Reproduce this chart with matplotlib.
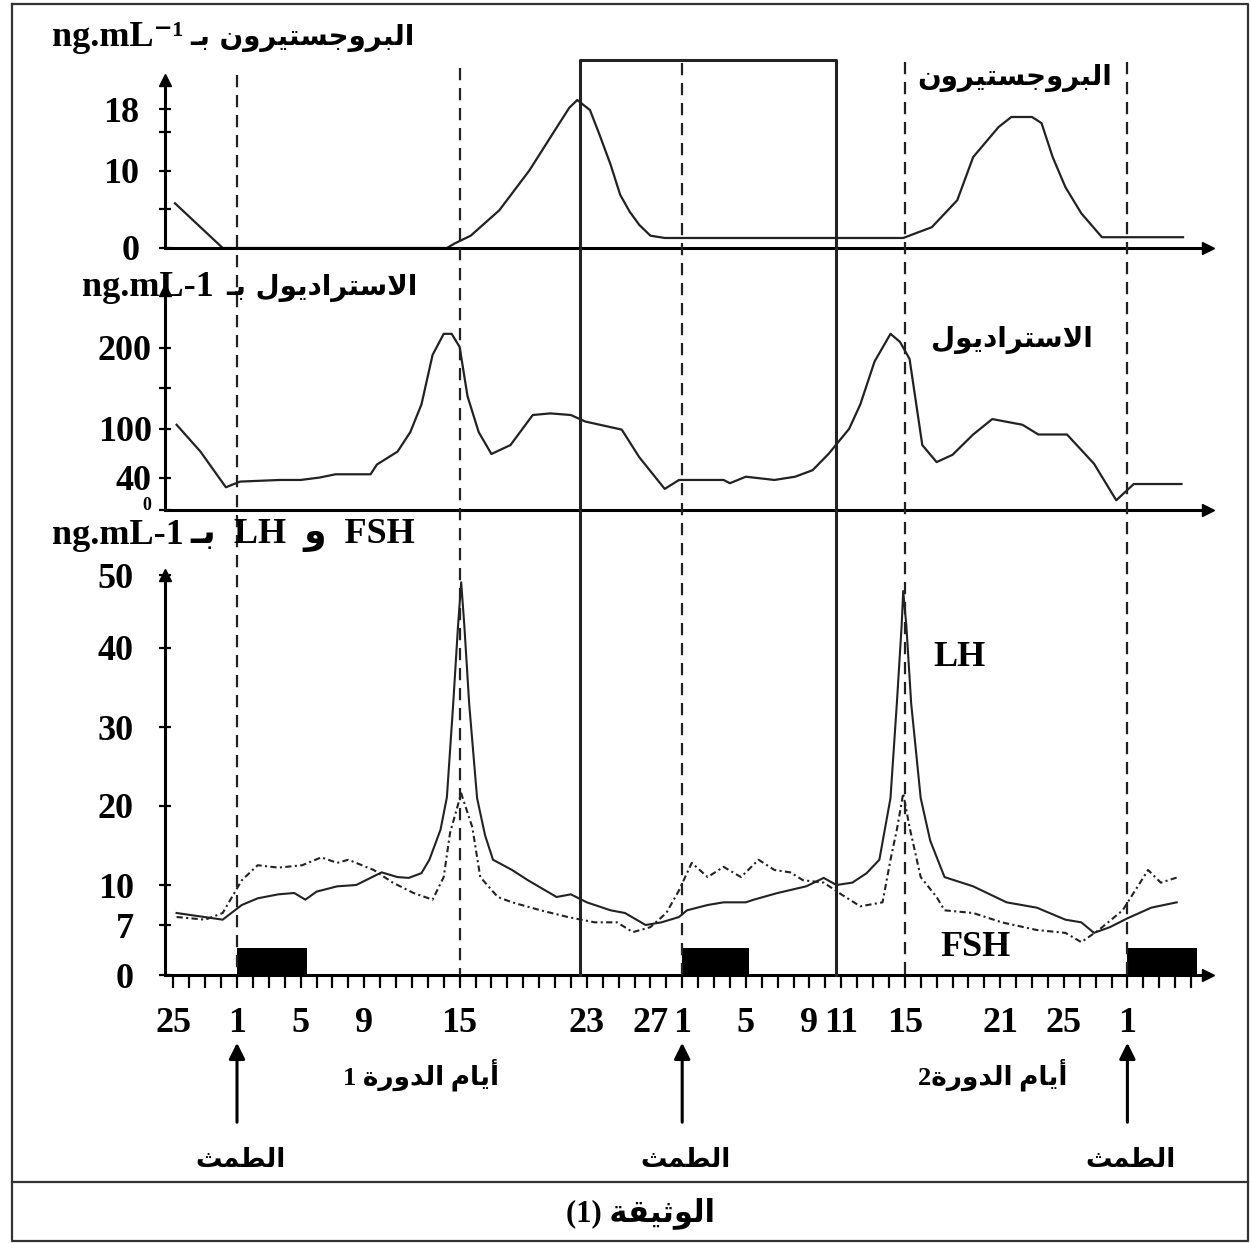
import numpy as np
import matplotlib
matplotlib.use('Agg')
import matplotlib.pyplot as plt
from matplotlib.lines import Line2D
from matplotlib.ticker import FixedLocator

W, H = 1251, 1243
LATIN = 'Liberation Serif'
ARAB = 'DejaVu Sans'
plt.rcParams['font.family'] = [LATIN, ARAB]
plt.rcParams['font.weight'] = 'bold'

# days counted from day 1 of cycle 1 (28 day cycles)
prog_day = [-3.9, -0.9, 13.2, 13.7, 14.7, 16.5, 18.4, 20.0, 20.9, 21.4, 22.2, 22.8, 23.5,
            24.1, 24.7, 25.3, 26.0, 26.9, 41.9, 43.7, 45.3, 46.3, 47.9, 48.7, 50.0, 50.6,
            51.3, 52.1, 53.1, 54.4, 59.5]
prog_val = [5.8, 0, 0, 0.6, 1.6, 4.9, 10.1, 15.3, 18.2, 19.2, 17.9, 14.7, 10.8,
            6.9, 4.7, 3.0, 1.6, 1.3, 1.3, 2.7, 6.2, 11.8, 15.7, 17.0, 17.0, 16.2,
            11.8, 7.9, 4.5, 1.4, 1.4]

estr_day = [-3.8, -2.3, -0.7, 0.2, 2.7, 4.0, 5.2, 6.2, 8.4, 8.8, 10.1, 10.9, 11.6, 12.3,
            13.0, 13.5, 14.0, 14.5, 15.2, 16.0, 17.2, 18.6, 19.7, 21.0, 21.9, 24.2, 25.3,
            26.9, 27.8, 30.6, 31.0, 32.0, 33.8, 35.1, 36.2, 37.2, 38.5, 39.2, 40.1, 41.1,
            41.7, 42.3, 43.1, 44.0, 45.0, 46.3, 47.5, 49.4, 50.4, 52.2, 53.9, 55.3, 56.4, 59.4]
estr_val = [105, 72, 28, 35, 37, 37, 40, 44, 44, 56, 72, 96, 130, 191,
            217, 217, 201, 140, 96, 69, 80, 117, 119, 117, 109, 99, 65,
            26, 37, 37, 33, 41, 37, 41, 49, 69, 100, 130, 183, 217,
            207, 186, 80, 59, 68, 93, 112, 105, 93, 93, 57, 12, 32, 32]

lh_day = [-3.8, -0.9, 0.3, 1.3, 2.6, 3.6, 4.3, 5.0, 6.3, 7.5, 8.5, 9.1, 10.1, 10.8, 11.6,
          12.1, 12.8, 13.2, 13.6, 13.9, 14.1, 14.3, 14.6, 15.1, 15.6, 16.1, 17.3, 18.3,
          20.1, 21.0, 22.0, 23.5, 24.4, 25.7, 26.7, 27.8, 28.3, 29.6, 30.6, 32.0, 32.5,
          34.0, 35.8, 36.9, 37.7, 38.7, 39.6, 40.4, 41.1, 41.5, 41.8, 41.9, 42.1, 42.4,
          43.0, 43.6, 44.5, 46.3, 48.4, 50.3, 52.1, 53.1, 53.9, 54.9, 56.0, 57.5, 59.1]
lh_val = [7.9, 7.4, 8.5, 9.0, 9.3, 9.4, 8.9, 9.5, 9.9, 10.0, 11.0, 11.6, 11.0, 10.9, 11.5,
          13.2, 17.0, 21.1, 33.0, 43.0, 49.0, 43.0, 33.0, 21.0, 16.3, 13.2, 11.9, 10.6,
          9.1, 9.3, 8.7, 8.1, 7.9, 7.0, 7.2, 7.6, 8.1, 8.5, 8.7, 8.7, 8.9,
          9.4, 9.9, 10.9, 10.0, 10.3, 11.5, 13.2, 21.0, 33.0, 43.0, 47.8, 43.0, 33.0,
          21.0, 15.6, 11.0, 9.9, 8.7, 8.3, 7.4, 7.2, 5.9, 6.7, 7.5, 8.3, 8.7]

fsh_day = [-3.8, -2.0, -0.9, 0.3, 1.3, 2.6, 4.1, 5.3, 6.3, 7.0, 8.6, 9.8, 11.1, 12.3,
           13.0, 13.4, 14.1, 14.8, 15.3, 16.4, 17.3, 19.1, 20.8, 22.5, 23.9, 24.9, 26.0,
           27.0, 27.8, 28.6, 29.6, 30.6, 31.7, 32.8, 33.8, 34.8, 35.6, 36.9, 38.0, 39.2,
           40.6, 41.1, 41.5, 41.9, 42.3, 43.0, 44.0, 44.5, 46.3, 48.1, 50.3, 52.1, 53.1,
           54.2, 55.7, 57.3, 58.1, 59.2]
fsh_val = [7.6, 7.4, 7.9, 10.6, 12.5, 12.2, 12.5, 13.5, 12.8, 13.2, 11.9, 10.3, 9.4, 8.9,
           11.0, 16.6, 21.6, 17.3, 11.0, 9.1, 8.7, 8.1, 7.6, 7.2, 7.2, 6.0, 6.7,
           7.9, 9.6, 12.8, 11.0, 12.3, 11.0, 13.2, 11.9, 11.6, 10.6, 10.3, 9.3, 8.4,
           8.7, 13.2, 17.0, 21.6, 17.3, 11.0, 9.1, 8.1, 7.9, 7.2, 6.3, 5.9, 4.6,
           6.3, 8.1, 11.9, 10.3, 11.0]

tick_days = [-4, 0, 4, 8, 14, 22, 26, 28, 32, 36, 38, 42, 48, 52, 56]
tick_labels = ['25', '1', '5', '9', '15', '23', '27', '1', '5', '9', '11', '15', '21', '25', '1']
menses_start = [0, 28, 56]
menses_len = [4.4, 4.2, 4.4]
menses_height = 3.8
cycle_marks = [0, 14, 28, 42, 56]
box_days = [21.6, 37.7]

# gonadotrophin axis of the document is not linear near the bottom
gon_vals = [-10, 0, 7, 10, 20, 30, 40, 50, 60]
gon_pos = [-71, 0, 50, 90, 169, 248, 327, 400, 473]

AR_FORMS = {
    'ا': ('\uFE8D', '\uFE8E', None, None),
    'أ': ('\uFE83', '\uFE84', None, None),
    'ب': ('\uFE8F', '\uFE90', '\uFE91', '\uFE92'),
    'ة': ('\uFE93', '\uFE94', None, None),
    'ت': ('\uFE95', '\uFE96', '\uFE97', '\uFE98'),
    'ث': ('\uFE99', '\uFE9A', '\uFE9B', '\uFE9C'),
    'ج': ('\uFE9D', '\uFE9E', '\uFE9F', '\uFEA0'),
    'د': ('\uFEA9', '\uFEAA', None, None),
    'ر': ('\uFEAD', '\uFEAE', None, None),
    'س': ('\uFEB1', '\uFEB2', '\uFEB3', '\uFEB4'),
    'ط': ('\uFEC1', '\uFEC2', '\uFEC3', '\uFEC4'),
    'ق': ('\uFED5', '\uFED6', '\uFED7', '\uFED8'),
    'ل': ('\uFEDD', '\uFEDE', '\uFEDF', '\uFEE0'),
    'م': ('\uFEE1', '\uFEE2', '\uFEE3', '\uFEE4'),
    'ن': ('\uFEE5', '\uFEE6', '\uFEE7', '\uFEE8'),
    'و': ('\uFEED', '\uFEEE', None, None),
    'ي': ('\uFEF1', '\uFEF2', '\uFEF3', '\uFEF4'),
    'ـ': ('ـ', 'ـ', 'ـ', 'ـ'),
}
LAM_ALEF = {'ا': ('\uFEFB', '\uFEFC'), 'أ': ('\uFEF7', '\uFEF8')}


def joins_next(c):
    f = AR_FORMS.get(c)
    return f is not None and f[2] is not None


def ar(text):
    # contextual forms + visual (left to right) order
    out, prev, i, n = [], None, 0, len(text)
    while i < n:
        c = text[i]
        if c not in AR_FORMS:
            out.append(c)
            prev = None
            i += 1
            continue
        link_prev = prev is not None and joins_next(prev)
        if c == 'ل' and i + 1 < n and text[i + 1] in LAM_ALEF:
            out.append(LAM_ALEF[text[i + 1]][1 if link_prev else 0])
            prev = text[i + 1]
            i += 2
            continue
        nxt = text[i + 1] if i + 1 < n else None
        link_next = joins_next(c) and nxt in AR_FORMS
        f = AR_FORMS[c]
        if link_prev and link_next:
            g = f[3]
        elif link_prev:
            g = f[1]
        elif link_next:
            g = f[2]
        else:
            g = f[0]
        out.append(g)
        prev = c
        i += 1
    return ''.join(reversed(out))


def fx(px):
    return px / W


def fy(py):
    return 1 - py / H


XMIN = (165 - 237) / 15.9
XMAX = (1208 - 237) / 15.9

fig = plt.figure(figsize=(W / 100, H / 100), dpi=100)


def panel(top_px, bottom_px):
    ax = fig.add_axes([fx(165), fy(bottom_px), fx(1208) - fx(165), (bottom_px - top_px) / H])
    ax.set_xlim(XMIN, XMAX)
    ax.patch.set_visible(False)
    for s in ['top', 'right']:
        ax.spines[s].set_visible(False)
    for s in ['left', 'bottom']:
        ax.spines[s].set_linewidth(2.2)
    ax.plot(1, 0, '>k', ms=9, transform=ax.transAxes, clip_on=False)
    ax.plot(0, 1, '^k', ms=8, transform=ax.transAxes, clip_on=False)
    ax.tick_params(axis='y', direction='inout', length=9, width=1.6, labelsize=26)
    return ax


ax1 = panel(80, 248)
ax1.set_ylim(0, 21.8)
ax1.plot(prog_day, prog_val, color='#222222', lw=1.6, clip_on=False)
ax1.set_yticks([0, 10, 18])
ax1.set_yticks([5, 15], minor=True)
ax1.tick_params(axis='y', which='minor', direction='inout', length=9, width=1.6)
ax1.tick_params(axis='y', pad=14)
ax1.set_xticks([])

ax2 = panel(290, 510)
ax2.set_ylim(0, 271)
ax2.plot(estr_day, estr_val, color='#222222', lw=1.6, clip_on=False)
ax2.set_yticks([0, 40, 100, 200])
ax2.set_yticklabels(['', '40', '100', '200'])
ax2.set_yticks([150], minor=True)
ax2.tick_params(axis='y', which='minor', direction='inout', length=9, width=1.6)
ax2.tick_params(axis='y', pad=5)
ax2.set_xticks([])
# small squeezed "0" of the estradiol scale, as in the document
fig.text(fx(151), fy(505), '0', fontsize=13, ha='right', va='center')

ax3 = panel(575, 975)
ax3.set_yscale('function', functions=(lambda v: np.interp(v, gon_vals, gon_pos),
                                      lambda p: np.interp(p, gon_pos, gon_vals)))
ax3.set_ylim(0, 50)
ax3.bar(menses_start, [menses_height] * len(menses_start), width=menses_len,
        align='edge', color='black', zorder=3)
ax3.plot(lh_day, lh_val, color='#222222', lw=1.5, clip_on=False)
ax3.plot(fsh_day, fsh_val, color='#222222', lw=1.5, ls=(0, (3, 1.6, 1, 1.6)), clip_on=False)
ax3.set_yticks([0, 7, 10, 20, 30, 40, 50])
ax3.yaxis.set_minor_locator(FixedLocator([]))
ax3.tick_params(axis='y', pad=18)
ax3.set_xticks(tick_days)
ax3.set_xticklabels(tick_labels)
ax3.xaxis.set_minor_locator(FixedLocator(range(-4, 61)))
ax3.tick_params(axis='x', which='both', direction='out', length=9, width=1.6,
                labelsize=26, pad=14)
ax3.text(0.762, 0.795, 'LH', transform=ax3.transAxes, fontsize=26, ha='center', va='center')
ax3.text(0.777, 0.07, 'FSH', transform=ax3.transAxes, fontsize=26, ha='center', va='center')

# overlay for the guide lines crossing all three panels (y in pixels)
ov = fig.add_axes([fx(165), 0, fx(1208) - fx(165), 1])
ov.set_xlim(XMIN, XMAX)
ov.set_ylim(H, 0)
ov.axis('off')
for d, top in zip(cycle_marks, [75, 68, 63, 62, 62]):
    ov.plot([d, d], [top, 975], color='#222222', lw=1.6, ls=(0, (5.5, 3.5)))
ov.plot([box_days[0], box_days[0], box_days[1], box_days[1]], [975, 60, 60, 975],
        color='#222222', lw=2.2)
for d in menses_start:
    ov.annotate('', xy=(d, 1040), xytext=(d, 1125),
                arrowprops=dict(arrowstyle='-|>', color='black', lw=2.2, mutation_scale=24))
    ov.text(d + 0.2, 1160, ar('الطمث'), ha='center', va='center', fontsize=19, family=ARAB)

ov.text(11.6, 1075, '1 ' + ar('أيام الدورة'), ha='center', va='center', fontsize=19)
ov.text(47.5, 1075, '2' + ar('أيام الدورة'), ha='center', va='center', fontsize=19)

# panel titles
fig.text(fx(52), fy(38), 'ng.mL\u207b\u00b9', fontsize=26, ha='left', va='center')
fig.text(fx(415), fy(38), ar('البروجستيرون بـ'), fontsize=20, family=ARAB, ha='right', va='center')
fig.text(fx(82), fy(288), 'ng.mL-1', fontsize=26, ha='left', va='center')
fig.text(fx(418), fy(288), ar('الاستراديول بـ'), fontsize=20, family=ARAB, ha='right', va='center')
fig.text(fx(52), fy(535), 'ng.mL-1', fontsize=26, ha='left', va='center')
fig.text(fx(190), fy(535), ar('بـ') + '  LH  ' + ar('و') + '  FSH', fontsize=26,
         ha='left', va='center')

fig.text(fx(1015), fy(78), ar('البروجستيرون'), fontsize=20, family=ARAB, ha='center', va='center')
fig.text(fx(1012), fy(340), ar('الاستراديول'), fontsize=20, family=ARAB, ha='center', va='center')
fig.text(fx(640), fy(1213), '(1) ' + ar('الوثيقة'), fontsize=22, ha='center', va='center')

# document frame
for xs, ys in [([12, 1248, 1248, 12, 12], [4, 4, 1241, 1241, 4]), ([12, 1248], [1182, 1182])]:
    fig.add_artist(Line2D([fx(v) for v in xs], [fy(v) for v in ys], color='#333333', lw=1.6))

fig.savefig('out.png', dpi=100)
